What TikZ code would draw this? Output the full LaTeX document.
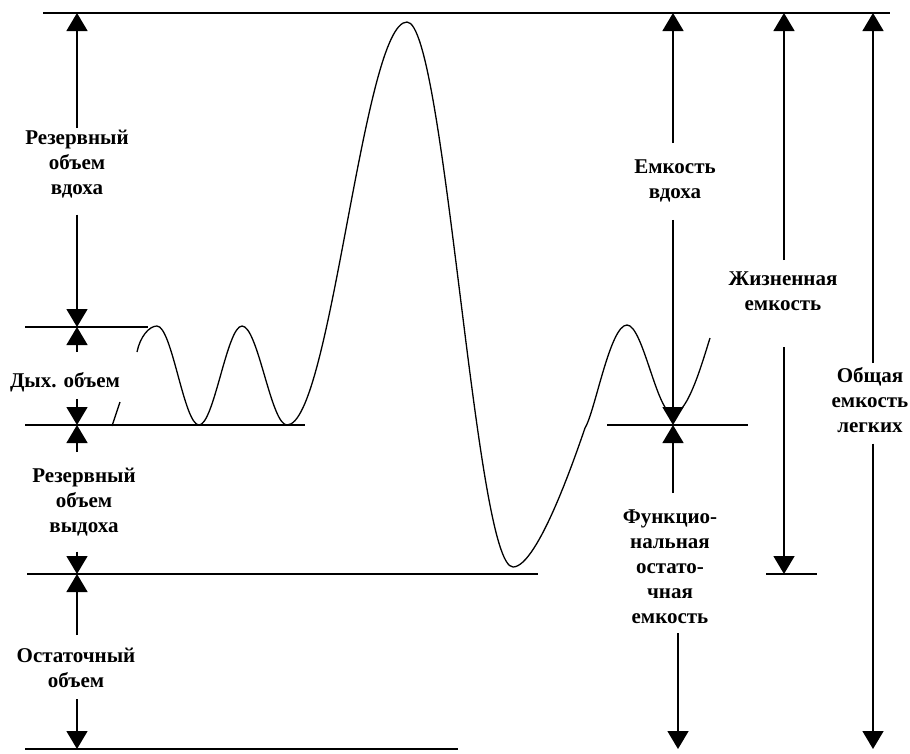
\documentclass[tikz,border=0pt]{standalone}
\usepackage{fontspec}
\setmainfont{Liberation Serif}
\usetikzlibrary{arrows.meta}
\tikzset{
  lvl/.style={line width=1.5pt},
  dim/.style={line width=1.5pt,-{Triangle[width=21pt,length=18pt]}},
  lbl/.style={font=\fontsize{21}{25}\selectfont\bfseries,align=center,inner sep=0pt,anchor=north},
  breath/.style={line width=1.3pt}
}
\begin{document}
\begin{tikzpicture}[x=1pt,y=-1pt]
\useasboundingbox (0,0) rectangle (910,753);
\coordinate (lTop) at (0,13);
\coordinate (lTi) at (0,327);
\coordinate (lFrc) at (0,425);
\coordinate (lRv) at (0,574);
\coordinate (lBot) at (0,749);
\coordinate (xL) at (77,0);
\coordinate (xIc) at (673,0);
\coordinate (xFrc) at (678,0);
\coordinate (xVc) at (784,0);
\coordinate (xTlc) at (873,0);
\draw[lvl] (43,13) -- (890,13);
\draw[lvl] (25,327) -- (148,327);
\draw[lvl] (25,425) -- (305,425);
\draw[lvl] (607,425) -- (748,425);
\draw[lvl] (27,574) -- (538,574);
\draw[lvl] (766,574) -- (817,574);
\draw[lvl] (25,749) -- (458,749);
\node[lbl] (irv) at (77,130) {Резервный\\объем\\вдоха};
\node[lbl] (tv) at (65,372) {Дых. объем};
\node[lbl] (erv) at (84,468) {Резервный\\объем\\выдоха};
\node[lbl] (rv) at (76,648) {Остаточный\\объем};
\node[lbl] (ic) at (675,160) {Емкость\\вдоха};
\node[lbl] (vc) at (783,272) {Жизненная\\емкость};
\node[lbl] (tlc) at (870,367) {Общая\\емкость\\легких};
\node[lbl] (frc) at (670,510) {Функцио-\\нальная\\остато-\\чная\\емкость};
\draw[dim,shorten <=2pt] (irv.north -| xL) -- (xL |- lTop);
\draw[dim,shorten <=16pt] (irv.south -| xL) -- (xL |- lTi);
\draw[dim,shorten <=20pt] (tv.north -| xL) -- (xL |- lTi);
\draw[dim,shorten <=7pt] (tv.south -| xL) -- (xL |- lFrc);
\draw[dim,shorten <=16pt] (erv.north -| xL) -- (xL |- lFrc);
\draw[dim,shorten <=15pt] (erv.south -| xL) -- (xL |- lRv);
\draw[dim,shorten <=13pt] (rv.north -| xL) -- (xL |- lRv);
\draw[dim,shorten <=11pt] (rv.south -| xL) -- (xL |- lBot);
\draw[dim,shorten <=17pt] (ic.north -| xIc) -- (xIc |- lTop);
\draw[dim,shorten <=17pt] (ic.south -| xIc) -- (xIc |- lFrc);
\draw[dim,shorten <=12pt] (vc.north -| xVc) -- (xVc |- lTop);
\draw[dim,shorten <=36pt] (vc.south -| xVc) -- (xVc |- lRv);
\draw[dim,shorten <=4pt] (tlc.north -| xTlc) -- (xTlc |- lTop);
\draw[dim,shorten <=11pt] (tlc.south -| xTlc) -- (xTlc |- lBot);
\draw[dim,shorten <=17pt] (frc.north -| xIc) -- (xIc |- lFrc);
\draw[dim,shorten <=9pt] (frc.south -| xFrc) -- (xFrc |- lBot);
\draw[breath] (112,426) -- (120,402);
\draw[breath] (137,352) .. controls (140,337) and (149,326) .. (157,326)
  .. controls (172,326) and (184,425) .. (199,425)
  .. controls (214,425) and (227,326) .. (242,326)
  .. controls (258,326) and (271,425) .. (287,425)
  .. controls (331,425) and (363,22) .. (407,22)
  .. controls (445,22) and (475,567) .. (513,567)
  .. controls (538,567) and (577,451) .. (585,428)
  .. controls (595,412) and (610,325) .. (627,325)
  .. controls (643,325) and (657,414) .. (673,414)
  .. controls (688,414) and (703,360) .. (710,338);
\end{tikzpicture}
\end{document}
